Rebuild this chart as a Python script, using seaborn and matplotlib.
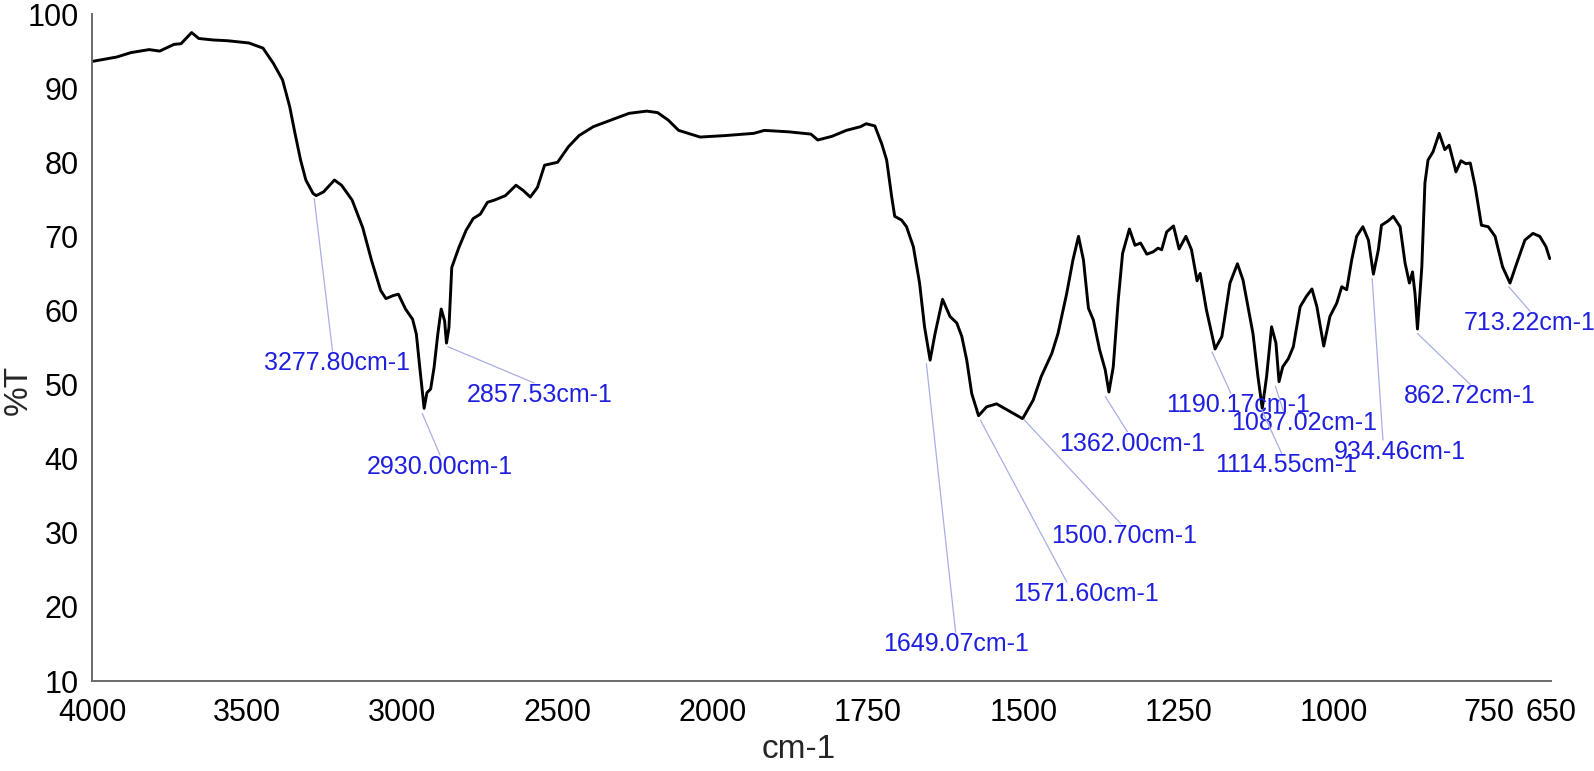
import numpy as np
import matplotlib
matplotlib.use("Agg")
import matplotlib.pyplot as plt
import seaborn as sns

# FTIR spectrum
wavenumber = [
    4000, 3920, 3874, 3816, 3782, 3736, 3713, 3679, 3656, 3610, 3564, 3495,
    3449, 3415, 3386, 3363, 3346, 3328, 3311, 3288, 3278, 3254, 3219, 3196,
    3162, 3128, 3099, 3070, 3053, 3030, 3013, 2990, 2967, 2955, 2944, 2930,
    2921, 2909, 2898, 2886, 2875, 2864, 2858, 2850, 2841, 2818, 2795, 2772,
    2749, 2726, 2703, 2668, 2634, 2611, 2588, 2565, 2542, 2511, 2500, 2465,
    2431, 2385, 2328, 2270, 2213, 2178, 2144, 2110, 2041, 1980, 1934, 1917,
    1877, 1842, 1831, 1808, 1785, 1762, 1753, 1739, 1728, 1720, 1712, 1707,
    1696, 1688, 1677, 1667, 1659, 1650, 1642, 1630, 1618, 1607, 1599, 1591,
    1583, 1572, 1559, 1543, 1524, 1501, 1484, 1471, 1454, 1444, 1430, 1420,
    1411, 1403, 1395, 1387, 1377, 1368, 1362, 1355, 1347, 1340, 1329, 1320,
    1311, 1301, 1291, 1283, 1277, 1269, 1258, 1249, 1238, 1229, 1220, 1215,
    1205, 1191, 1180, 1167, 1155, 1146, 1130, 1122, 1115, 1108, 1100, 1093,
    1088, 1082, 1073, 1065, 1054, 1044, 1035, 1027, 1016, 1006, 995, 987,
    979, 971, 963, 953, 944, 936, 928, 923, 912, 904, 893, 885,
    878, 873, 869, 865, 858, 853, 848, 840, 830, 821, 814, 803,
    795, 787, 780, 772, 762, 751, 740, 728, 716, 705, 692, 679,
    668, 658, 652,
]
transmittance = [
    93.6, 94.2, 94.8, 95.2, 95.0, 95.9, 96.0, 97.5, 96.7, 96.5, 96.4, 96.1,
    95.4, 93.3, 91.1, 87.5, 83.9, 80.3, 77.6, 75.8, 75.5, 76.0, 77.6, 76.9,
    74.9, 71.2, 66.7, 62.7, 61.6, 62.0, 62.2, 60.2, 58.8, 56.8, 52.3, 46.8,
    48.9, 49.4, 52.3, 56.8, 60.2, 58.6, 55.6, 57.7, 65.8, 68.5, 70.8, 72.4,
    73.0, 74.6, 74.9, 75.5, 76.9, 76.2, 75.3, 76.6, 79.6, 79.9, 80.0, 82.1,
    83.6, 84.8, 85.7, 86.6, 86.9, 86.7, 85.7, 84.3, 83.4, 83.6, 83.9, 84.3,
    84.1, 83.8, 83.0, 83.5, 84.3, 84.8, 85.2, 84.9, 82.5, 80.3, 75.4, 72.7,
    72.2, 71.3, 68.6, 63.7, 57.8, 53.3, 56.9, 61.5, 59.2, 58.3, 56.5, 53.3,
    48.8, 45.8, 47.0, 47.4, 46.5, 45.4, 47.9, 51.1, 54.2, 56.9, 62.3, 66.8,
    70.0, 66.8, 60.3, 58.7, 54.7, 52.0, 49.0, 52.4, 61.4, 67.7, 71.0, 68.8,
    69.1, 67.6, 67.9, 68.4, 68.2, 70.6, 71.4, 68.3, 70.0, 68.2, 64.0, 65.0,
    60.1, 54.8, 56.5, 63.7, 66.3, 64.1, 56.9, 51.1, 46.8, 51.1, 57.8, 55.6,
    50.4, 52.4, 53.5, 55.1, 60.5, 61.9, 62.9, 60.5, 55.2, 59.2, 61.0, 63.2,
    62.8, 66.8, 70.0, 71.3, 69.5, 64.9, 68.2, 71.5, 72.1, 72.7, 71.3, 66.4,
    63.7, 65.2, 62.3, 57.5, 65.9, 77.2, 80.3, 81.4, 83.9, 81.7, 82.3, 78.7,
    80.2, 79.8, 79.9, 76.7, 71.5, 71.3, 70.0, 65.9, 63.7, 66.4, 69.5, 70.4,
    70.0, 68.6, 67.0,
]

# peak labels: where the leader line starts and where the text sits
peak_labels = ["3277.80cm-1", "2930.00cm-1", "2857.53cm-1", "1649.07cm-1",
               "1571.60cm-1", "1500.70cm-1", "1362.00cm-1", "1190.17cm-1",
               "1087.02cm-1", "1114.55cm-1", "934.46cm-1", "862.72cm-1",
               "713.22cm-1"]
peak_x = [3284, 2936, 2853, 1656, 1569, 1499, 1368, 1196, 1094, 1116, 938, 865, 718]
peak_y = [75.1, 46.1, 55.1, 52.8, 45.2, 45.3, 48.4, 54.4, 49.8, 46.6, 64.3, 56.9, 63.2]
text_x = [3211, 2879, 2557, 1609, 1399, 1338, 1325, 1154, 1048, 1077, 893, 780, 684]
text_y = [52.9, 38.9, 48.6, 15.0, 21.7, 29.6, 42.0, 47.2, 44.8, 39.1, 40.9, 48.4, 58.3]
rel_x = [0.47, 0.5, 0.46, 0.5, 0.37, 0.48, 0.47, 0.45, 0.36, 0.47, 0.37, 0.5, 0.5]

x_ticks = [4000, 3500, 3000, 2500, 2000, 1750, 1500, 1250, 1000, 750, 650]
y_ticks = [10, 20, 30, 40, 50, 60, 70, 80, 90, 100]


def fwd(w):
    # spectrometer style axis: half scale above 2000 cm-1
    w = np.asarray(w, dtype=float)
    return np.where(w <= 2000, w, 2000 + (w - 2000) / 2.0)


def inv(u):
    u = np.asarray(u, dtype=float)
    return np.where(u <= 2000, u, 2000 + (u - 2000) * 2.0)


sns.set_style("white")
plt.rcParams["font.family"] = ["Liberation Sans", "DejaVu Sans"]

fig = plt.figure(figsize=(15.94, 7.71), dpi=100)
ax = fig.add_axes([0.0577, 0.1167, 0.9153, 0.8651])

sns.lineplot(x=wavenumber, y=transmittance, sort=False, estimator=None,
             color="black", linewidth=2.1, ax=ax)

ax.set_xscale("function", functions=(fwd, inv))
ax.set_xlim(4000, 650)
ax.set_ylim(10, 100)
ax.set_xticks(x_ticks)
ax.set_xticklabels([str(t) for t in x_ticks])
ax.set_yticks(y_ticks)
ax.minorticks_off()

for side in ["top", "right"]:
    ax.spines[side].set_visible(False)
for side in ["left", "bottom"]:
    ax.spines[side].set_color("#6a6a6a")
    ax.spines[side].set_linewidth(1.4)

ax.tick_params(axis="x", direction="out", length=11, width=1.3, color="#6a6a6a",
               labelsize=22, pad=1.5, labelcolor="black")
ax.tick_params(axis="y", direction="out", length=9, width=1.3, color="#6a6a6a",
               labelsize=22, pad=0.5, labelcolor="black")

ax.set_xlabel("cm-1", fontsize=24)
ax.set_ylabel("%T", fontsize=24)
ax.xaxis.set_label_coords(0.4846, -0.079)
ax.yaxis.set_label_coords(-0.040, 0.436)

for lab, px, py, tx, ty, rx in zip(peak_labels, peak_x, peak_y, text_x, text_y, rel_x):
    ax.annotate(lab, xy=(px, py), xytext=(tx, ty), ha="center", va="center",
                fontsize=18, color="#1f1fe0", annotation_clip=False,
                arrowprops=dict(arrowstyle="-", color="#a9aee3", lw=0.9,
                                shrinkA=0, shrinkB=0, patchA=None,
                                relpos=(rx, 1.0)))

fig.savefig("out.png", dpi=100)
